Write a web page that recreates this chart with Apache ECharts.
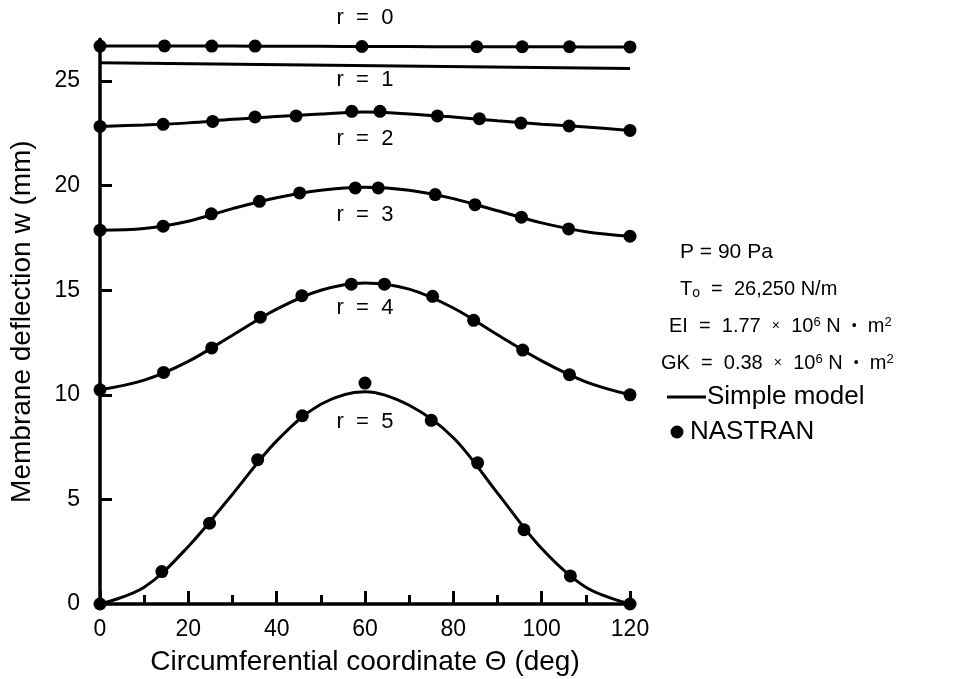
<!DOCTYPE html>
<html>
<head>
<meta charset="utf-8">
<script src="https://cdn.jsdelivr.net/npm/echarts@6/dist/echarts.min.js"></script>
<style>
html,body{margin:0;padding:0;background:#fff;}
#c{width:955px;height:679px;}
</style>
</head>
<body>
<div id="c"></div>
<script>
// ---- data ----
const xTicks = [0, 20, 40, 60, 80, 100, 120];
const yTicks = [0, 5, 10, 15, 20, 25];
const yTickMarks = [5, 10, 15, 20, 25];

// Simple model curves (theta in deg, w in mm)
const thetaModel = [0, 10, 20, 30, 40, 50, 60, 70, 80, 90, 100, 110, 120];
const modelR0 = [26.67, 26.67, 26.67, 26.67, 26.66, 26.66, 26.65, 26.65, 26.64, 26.64, 26.64, 26.63, 26.63];
const thetaModelR1 = [0, 120];
const modelR1 = [25.88, 25.60];
const modelR2 = [22.83, 22.90, 23.00, 23.17, 23.30, 23.42, 23.52, 23.43, 23.28, 23.10, 22.94, 22.80, 22.64];
const modelR3 = [17.87, 17.95, 18.30, 18.90, 19.42, 19.78, 19.92, 19.78, 19.38, 18.80, 18.22, 17.80, 17.58];
const modelR4 = [10.24, 10.70, 11.60, 12.85, 14.10, 15.00, 15.35, 15.05, 14.15, 12.87, 11.62, 10.62, 10.00];
const modelR5 = [0, 0.80, 2.75, 5.25, 7.80, 9.55, 10.15, 9.50, 7.95, 5.30, 2.65, 0.80, 0];

// NASTRAN points
const thetaN0 = [0, 14.6, 25.3, 35.1, 59.3, 85.3, 95.6, 106.3, 120];
const nastR0 = [26.67, 26.68, 26.67, 26.67, 26.65, 26.64, 26.64, 26.64, 26.63];
const thetaN2 = [0, 14.3, 25.5, 35.1, 44.4, 57.0, 63.4, 76.4, 85.9, 95.3, 106.2, 120];
const nastR2 = [22.83, 22.93, 23.07, 23.28, 23.33, 23.55, 23.55, 23.33, 23.20, 22.99, 22.85, 22.64];
const thetaN3 = [0, 14.3, 25.2, 36.1, 45.2, 57.8, 63.0, 75.9, 84.9, 95.4, 106.1, 120];
const nastR3 = [17.87, 18.06, 18.65, 19.25, 19.65, 19.89, 19.89, 19.57, 19.09, 18.49, 17.93, 17.58];
const thetaN4 = [0, 14.4, 25.3, 36.3, 45.7, 56.9, 64.4, 75.3, 84.6, 95.7, 106.3, 120];
const nastR4 = [10.24, 11.07, 12.24, 13.71, 14.74, 15.29, 15.29, 14.71, 13.56, 12.14, 10.96, 10.00];
const thetaN5 = [0, 14.0, 24.8, 35.7, 45.8, 60.0, 75.0, 85.5, 96.0, 106.5, 120];
const nastR5 = [0, 1.55, 3.86, 6.90, 9.00, 10.56, 8.78, 6.75, 3.55, 1.34, 0];

// curve labels: text, theta, w
const curveLabels = ['r  =  0', 'r  =  1', 'r  =  2', 'r  =  3', 'r  =  4', 'r  =  5'];
const labelTheta = [60, 60, 60, 60, 60, 60];
const labelW = [28.0, 25.05, 22.23, 18.6, 14.15, 8.7];

// parameter block text
const paramLines = [
  'P = 90 Pa',
  'T{sub|o}  =  26,250 N/m',
  'EI  =  1.77  {x|×}  10{sup|6} N  {x|•}  m{sup|2}',
  'GK  =  0.38  {x|×}  10{sup|6} N  {x|•}  m{sup|2}'
];
const paramFont = [21, 20, 20, 20];

// ---- chart ----
const FONT = '"Liberation Sans", Arial, Helvetica, sans-serif';
const INK = '#000';
const zip = (xs, ys) => xs.map((x, i) => [x, ys[i]]);

const chart = echarts.init(document.getElementById('c'), null, {renderer: 'canvas'});

function modelSeries(xs, ys) {
  return {
    type: 'line', name: 'Simple model', data: zip(xs, ys),
    smooth: 0.35, showSymbol: false, symbol: 'none',
    lineStyle: {color: INK, width: 3}, z: 3, silent: true
  };
}
function nastranSeries(xs, ys) {
  return {
    type: 'scatter', name: 'NASTRAN', data: zip(xs, ys),
    symbol: 'circle', symbolSize: 13, itemStyle: {color: INK, opacity: 1},
    clip: false, z: 4, silent: true
  };
}

const option = {
  animation: false,
  backgroundColor: '#fff',
  grid: {left: 100, right: 325, top: 39.2, bottom: 75, containLabel: false, outerBoundsMode: 'none'},
  xAxis: {
    type: 'value', min: 0, max: 120, interval: 20,
    name: 'Circumferential coordinate Θ (deg)',
    nameLocation: 'middle', nameGap: 44,
    nameTextStyle: {color: INK, fontFamily: FONT, fontSize: 28},
    axisLine: {show: true, onZero: false, lineStyle: {color: INK, width: 3.5}},
    axisTick: {show: true, inside: true, length: 13, lineStyle: {color: INK, width: 3}},
    minorTick: {show: true, splitNumber: 2, length: 9, lineStyle: {color: INK, width: 3}},
    axisLabel: {color: INK, fontFamily: FONT, fontSize: 23, margin: 14,
      formatter: v => xTicks.includes(v) ? String(v) : ''},
    splitLine: {show: false}
  },
  yAxis: {
    type: 'value', min: 0, max: 27, interval: 5,
    name: 'Membrane deflection w (mm)',
    nameLocation: 'middle', nameGap: 64, nameRotate: 90,
    nameTextStyle: {color: INK, fontFamily: FONT, fontSize: 28},
    axisLine: {show: true, onZero: false, lineStyle: {color: INK, width: 3.5}},
    axisTick: {show: true, inside: true, length: 12, customValues: yTickMarks,
      lineStyle: {color: INK, width: 3}},
    axisLabel: {color: INK, fontFamily: FONT, fontSize: 23, margin: 20, customValues: yTicks},
    splitLine: {show: false}
  },
  series: [
    modelSeries(thetaModel, modelR0),
    modelSeries(thetaModelR1, modelR1),
    modelSeries(thetaModel, modelR2),
    modelSeries(thetaModel, modelR3),
    modelSeries(thetaModel, modelR4),
    modelSeries(thetaModel, modelR5),
    nastranSeries(thetaN0, nastR0),
    nastranSeries(thetaN2, nastR2),
    nastranSeries(thetaN3, nastR3),
    nastranSeries(thetaN4, nastR4),
    nastranSeries(thetaN5, nastR5)
  ]
};
chart.setOption(option);

// labels and parameter block
const graphics = [];
curveLabels.forEach((t, i) => {
  const p = chart.convertToPixel({gridIndex: 0}, [labelTheta[i], labelW[i]]);
  graphics.push({
    type: 'text', x: p[0], y: p[1], z: 10,
    style: {text: t, fill: INK, font: '22px ' + FONT, textAlign: 'center', textVerticalAlign: 'middle'}
  });
});

const rich = {
  sub: {fontSize: 14, fontFamily: FONT, fill: INK, verticalAlign: 'bottom', padding: [8, 0, 0, 0]},
  sup: {fontSize: 13, fontFamily: FONT, fill: INK, verticalAlign: 'top', padding: [0, 0, 8, 0]},
  x: {fontSize: 14, fontFamily: FONT, fill: INK}
};
const paramX = [680, 680, 669, 661];
const paramY = [252, 289, 326, 363];
paramLines.forEach((t, i) => {
  graphics.push({
    type: 'text', x: paramX[i], y: paramY[i], z: 10,
    style: {text: t, fill: INK, font: paramFont[i] + 'px ' + FONT, fontSize: paramFont[i], fontFamily: FONT,
      textVerticalAlign: 'middle', rich: rich}
  });
});
// legend-like key
graphics.push({type: 'line', shape: {x1: 667, y1: 397, x2: 706, y2: 397}, style: {stroke: INK, lineWidth: 3}, z: 10});
graphics.push({type: 'text', x: 707, y: 397, z: 10,
  style: {text: 'Simple model', fill: INK, font: '26px ' + FONT, textVerticalAlign: 'middle'}});
graphics.push({type: 'circle', shape: {cx: 677, cy: 432, r: 6.5}, style: {fill: INK}, z: 10});
graphics.push({type: 'text', x: 690, y: 432, z: 10,
  style: {text: 'NASTRAN', fill: INK, font: '26px ' + FONT, textVerticalAlign: 'middle'}});

chart.setOption({graphic: graphics});
</script>
</body>
</html>
